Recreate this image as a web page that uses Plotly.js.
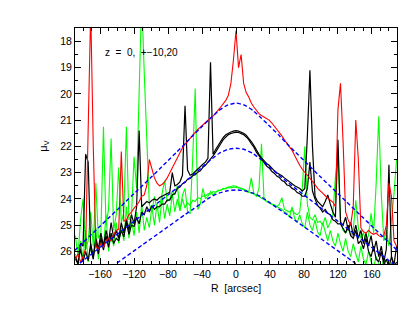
<!DOCTYPE html>
<html><head><meta charset="utf-8">
<script src="https://cdn.plot.ly/plotly-3.0.1.min.js"></script>
<style>html,body{margin:0;padding:0;background:#fff}#c{width:409px;height:316px}</style>
</head><body><div id="c"></div>
<script>
// radius grid for observed profiles (arcsec)
const R = [-189,-186,-183,-180,-177,-174,-171,-168,-165,-162,-159,-156,-153,-150,-147,-144,-141,-138,-135,-132,-129,-126,-123,-120,-117,-114,-111,-108,-105,-102,-99,-96,-93,-90,-87,-84,-81,-78,-75,-72,-69,-66,-63,-60,-57,-54,-51,-48,-45,-42,-39,-36,-33,-30,-27,-24,-21,-18,-15,-12,-9,-6,-3,0,3,6,9,12,15,18,21,24,27,30,33,36,39,42,45,48,51,54,57,60,63,66,69,72,75,78,81,84,87,90,93,96,99,102,105,108,111,114,117,120,123,126,129,132,135,138,141,144,147,150,153,156,159,162,165,168,171,174,177,180,183,186,189];

// z = 0 profile (red)
const muZ0 = [26.3,26.1,26.4,26.2,25.9,21.5,16.8,22.0,25.8,25.9,25.7,25.85,25.6,25.5,25.6,25.35,25.2,25.15,22.2,24.85,24.8,24.6,24.5,24.35,24.25,24.1,23.9,23.85,23.5,22.5,22.9,23.2,23.4,23.5,23.45,23.35,23.2,23.0,22.8,22.6,22.4,22.2,22.05,21.92,21.8,21.68,21.55,21.45,21.35,21.27,21.18,21.08,21.0,20.92,20.85,20.75,20.62,20.5,20.38,20.25,20.05,19.6,18.7,17.6,19.0,18.5,19.6,19.95,20.12,20.35,20.5,20.65,20.75,20.82,20.88,20.92,21.0,21.1,21.22,21.35,21.47,21.6,21.75,21.88,21.98,22.15,22.35,22.55,22.72,22.87,22.98,23.1,23.2,23.3,23.45,23.6,23.68,23.78,23.88,23.98,24.05,24.12,24.3,20.6,19.6,21.8,24.5,24.8,25.0,24.3,21.0,22.5,25.1,25.25,25.3,25.2,25.3,25.35,25.3,25.4,25.45,25.4,25.0,23.4,23.9,25.6,25.8];

// z = +10 profile (black)
const muZp10 = [26.3,26.45,25.7,25.8,22.3,22.6,25.9,26.3,25.5,25.9,25.3,25.8,25.2,25.65,24.9,25.5,25.2,25.5,24.9,25.3,24.8,25.2,24.6,24.95,24.3,21.4,24.3,24.2,24.1,24.15,24.05,24.0,24.05,23.95,23.9,23.85,23.8,23.75,23.0,23.5,23.45,23.35,23.1,20.45,22.9,23.1,23.05,22.95,22.88,22.75,22.68,22.6,22.45,18.8,22.3,22.12,21.95,21.8,21.66,21.56,21.5,21.45,21.42,21.4,21.42,21.45,21.5,21.57,21.68,21.82,21.96,22.14,22.3,22.44,22.55,22.65,22.72,22.84,22.92,23.0,23.05,23.12,23.2,23.28,23.36,23.45,23.5,23.55,23.6,23.7,23.6,21.6,19.1,22.0,23.9,24.1,24.2,24.3,24.1,23.85,24.2,24.5,24.7,21.75,24.9,25.0,24.7,25.2,24.9,25.4,25.0,25.5,25.2,25.7,25.3,25.8,25.4,26.0,25.6,26.2,25.8,26.4,25.9,22.7,26.2,26.5,25.8];

// z = -10 profile (black)
const muZm10 = [26.2,26.5,25.9,26.4,26.0,26.35,25.7,26.2,25.6,26.1,25.5,25.95,25.4,25.85,25.3,25.7,25.5,25.6,25.2,25.45,24.9,25.35,25.0,25.05,24.7,24.95,24.5,24.6,24.3,24.5,24.25,24.4,24.3,24.3,24.2,24.2,24.05,24.05,23.85,23.8,23.6,23.55,23.42,23.38,23.25,23.22,23.12,23.08,22.98,22.93,22.8,22.72,22.6,22.5,22.36,22.22,22.03,21.9,21.74,21.64,21.55,21.51,21.47,21.46,21.47,21.51,21.55,21.64,21.74,21.9,22.03,22.22,22.36,22.52,22.62,22.75,22.82,22.95,23.02,23.13,23.18,23.3,23.35,23.47,23.5,23.6,23.65,23.76,23.8,23.9,23.9,23.6,22.6,23.7,24.0,24.25,24.35,24.5,24.4,24.55,24.6,24.8,24.85,24.95,24.95,25.1,25.3,25.0,25.4,25.5,25.2,25.7,25.6,25.9,25.5,26.0,26.2,25.8,26.3,26.4,26.0,26.5,26.3,26.6,26.2,26.6,26.4];

// z = +20 profile (green)
const muZp20 = [25.4,26.2,24.8,24.0,25.9,25.6,24.5,25.8,23.4,25.5,25.3,21.25,25.0,24.4,21.7,25.2,24.6,22.8,24.9,24.5,21.25,24.8,24.6,22.4,23.6,19.8,16.3,19.2,22.0,24.2,24.5,23.9,24.4,24.3,23.8,23.3,24.1,24.0,23.7,23.85,23.5,24.45,23.85,23.6,24.5,24.55,22.5,19.8,24.4,24.2,23.6,24.0,23.9,23.72,23.85,23.75,23.7,23.66,23.6,23.58,23.55,23.53,23.5,23.52,23.56,23.59,23.65,23.72,23.75,23.2,23.8,23.9,23.6,21.9,24.0,24.1,24.15,24.2,24.25,24.3,24.2,23.95,24.4,24.45,24.5,24.4,24.55,24.6,24.5,23.6,22.0,24.2,24.7,24.8,24.6,24.9,24.85,25.0,24.7,25.1,24.9,24.6,23.2,22.3,24.8,25.2,25.3,25.1,25.4,25.2,24.05,25.1,25.5,25.3,25.6,25.4,24.55,25.3,23.4,20.85,23.8,25.6,25.2,25.8,24.8,23.8,22.5];

// z = -20 profile (green)
const muZm20 = [26.1,26.5,25.6,26.3,25.2,26.4,25.8,26.2,25.1,26.3,25.4,25.9,24.6,26.0,25.3,25.8,24.9,25.7,25.0,25.6,24.3,25.5,24.8,25.4,24.5,25.3,24.2,25.2,24.7,25.1,24.3,25.0,24.2,24.9,23.9,24.75,24.2,24.65,23.8,24.5,24.0,24.45,24.0,24.35,24.15,24.25,24.05,24.1,23.95,24.0,23.88,23.9,23.8,23.82,23.72,23.74,23.66,23.68,23.6,23.62,23.57,23.58,23.55,23.56,23.58,23.6,23.62,23.68,23.72,23.78,23.8,23.88,23.9,23.98,24.02,24.1,24.12,24.2,24.22,24.3,24.35,24.4,24.5,24.55,24.7,24.3,24.75,24.9,24.6,24.95,25.1,24.5,25.0,25.2,24.8,25.25,25.4,24.9,25.3,25.6,25.2,25.6,25.8,25.3,25.7,26.0,25.5,26.0,26.2,25.7,26.1,26.4,25.8,26.3,26.5,26.0,26.4,26.6,26.2,26.5,26.7,26.3,26.6,26.7,26.4,26.7,26.6];

// model grid and model profiles (blue dashed)
const Rmod = [-190,-180,-170,-160,-150,-140,-130,-120,-110,-100,-90,-80,-70,-60,-50,-40,-30,-20,-10,0,10,20,30,40,50,60,70,80,90,100,110,120,130,140,150,160,170,180,190];
const modZ0 = [25.97,25.66,25.35,25.04,24.73,24.42,24.11,23.8,23.49,23.18,22.86,22.54,22.22,21.9,21.56,21.24,20.93,20.63,20.43,20.35,20.43,20.63,20.93,21.24,21.56,21.9,22.22,22.54,22.86,23.18,23.49,23.8,24.11,24.42,24.73,25.04,25.35,25.66,25.97];
const modZ10 = [26.6,26.35,26.1,25.85,25.6,25.35,25.1,24.85,24.6,24.35,24.1,23.85,23.6,23.35,23.08,22.8,22.52,22.27,22.12,22.07,22.12,22.27,22.52,22.8,23.08,23.35,23.6,23.85,24.1,24.35,24.6,24.85,25.1,25.35,25.6,25.85,26.1,26.35,26.6];
const modZ20 = [27.59,27.36,27.13,26.9,26.67,26.44,26.21,25.98,25.75,25.52,25.29,25.06,24.83,24.6,24.38,24.15,23.93,23.78,23.69,23.66,23.69,23.78,23.93,24.15,24.38,24.6,24.83,25.06,25.29,25.52,25.75,25.98,26.21,26.44,26.67,26.9,27.13,27.36,27.59];

const xTicks = [-160,-120,-80,-40,0,40,80,120,160];
const yTicks = [18,19,20,21,22,23,24,25,26];
const label = "z  =  0,  +\u221210,20";

const obs = (y, color, w) => ({x: R, y: y, type: 'scatter', mode: 'lines',
  line: {color: color, width: w}, hoverinfo: 'skip', showlegend: false});
const mod = (y) => ({x: Rmod, y: y, type: 'scatter', mode: 'lines',
  line: {color: '#0000ff', width: 1.4, dash: '4px,2.5px', shape: 'spline', smoothing: 0.5},
  hoverinfo: 'skip', showlegend: false});

const data = [
  obs(muZm20, '#00ff00', 1.1), obs(muZp20, '#00ff00', 1.1),
  obs(muZm10, '#000000', 1.2), obs(muZp10, '#000000', 1.2),
  obs(muZ0, '#ff0000', 1.1),
  mod(modZ0), mod(modZ10), mod(modZ20)
];

const axisFont = {family: 'Liberation Sans, Arial, sans-serif', size: 10.5, color: '#000'};
const layout = {
  width: 409, height: 316,
  margin: {l: 75, r: 12, t: 28, b: 52},
  paper_bgcolor: '#fff', plot_bgcolor: '#fff',
  showlegend: false,
  xaxis: {
    range: [-189.5, 189.5], tickvals: xTicks, ticktext: xTicks.map(v => v < 0 ? '\u2212' + (-v) : String(v)),
    ticks: 'inside', ticklen: 6, tickwidth: 1, tickcolor: '#000',
    minor: {dtick: 10, tick0: 0, ticks: 'inside', ticklen: 3, tickcolor: '#000', showgrid: false},
    showline: true, linecolor: '#000', linewidth: 1, mirror: 'ticks',
    showgrid: false, zeroline: false, tickfont: axisFont,
    title: {text: 'R  [arcsec]', font: axisFont, standoff: 6}, automargin: false
  },
  yaxis: {
    range: [26.48, 17.49], tickvals: yTicks,
    ticks: 'inside', ticklen: 6, tickwidth: 1, tickcolor: '#000',
    minor: {dtick: 0.5, tick0: 0, ticks: 'inside', ticklen: 3, tickcolor: '#000', showgrid: false},
    showline: true, linecolor: '#000', linewidth: 1, mirror: 'ticks',
    showgrid: false, zeroline: false, tickfont: axisFont,
    title: {text: '\u03bc<sub>V</sub>', font: {family: 'Liberation Sans, Arial, sans-serif', size: 11, color: '#000'}, standoff: 10}, automargin: false
  },
  annotations: [{x: -157, y: 18.43, xref: 'x', yref: 'y', text: label, showarrow: false,
    xanchor: 'left', yanchor: 'middle', font: {family: 'Liberation Sans, Arial, sans-serif', size: 10, color: '#000'}}]
};
Plotly.newPlot('c', data, layout, {staticPlot: true, displayModeBar: false});
</script></body></html>
